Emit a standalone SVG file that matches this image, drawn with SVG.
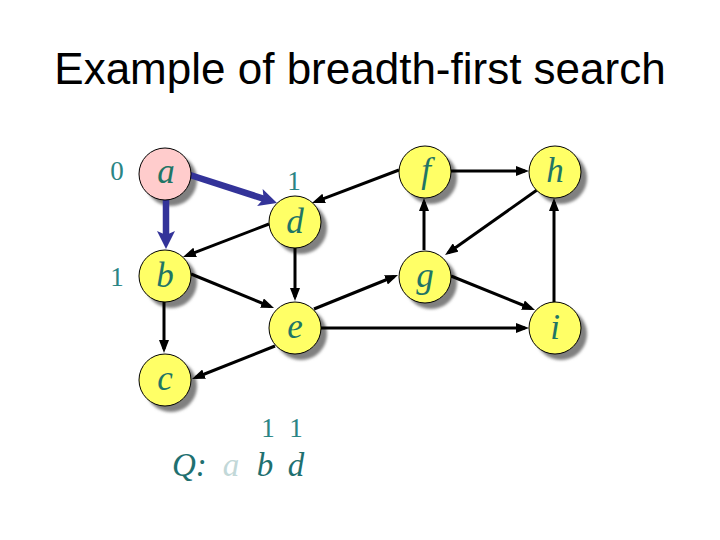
<svg xmlns="http://www.w3.org/2000/svg" width="720" height="540" viewBox="0 0 720 540">
<style>
.title{font-family:"Liberation Sans",Arial,sans-serif;font-size:44px;fill:#000}
.lbl{font-family:"Liberation Serif","Times New Roman",serif;font-style:italic;font-size:35px;fill:#1f7565;text-anchor:middle}
.num{font-family:"Liberation Serif","Times New Roman",serif;font-size:27px;fill:#2a8585;text-anchor:middle}
.q{font-family:"Liberation Serif","Times New Roman",serif;font-style:italic;font-size:33px;fill:#1f7070}
.node{stroke:#000;stroke-width:1;fill:#ffff66}
.start{fill:#ffcccc}
.sh{fill:#808080;filter:url(#blur)}
.e{stroke:#000;stroke-width:3;fill:none;marker-end:url(#ah)}
.t{stroke:#333399;stroke-width:6.5;fill:none;marker-end:url(#bh)}
</style>
<defs>
<filter id="blur" x="-20%" y="-20%" width="140%" height="140%"><feGaussianBlur stdDeviation="1.5"/></filter>
<marker id="ah" markerUnits="userSpaceOnUse" markerWidth="13" markerHeight="10" refX="9" refY="5" orient="auto"><path d="M0,0 L13,5 L0,10 z" fill="#000"/></marker>
<marker id="bh" markerUnits="userSpaceOnUse" markerWidth="18" markerHeight="18" refX="10" refY="9" orient="auto"><path d="M0,0 L18,9 L0,18 L4,9 z" fill="#333399"/></marker>
</defs>
<rect width="720" height="540" fill="#fff"/>
<text class="title" x="360" y="84" text-anchor="middle">Example of breadth-first search</text>
<g id="shadows">
<circle class="sh" cx="171" cy="180" r="26"/>
<circle class="sh" cx="301" cy="228" r="26"/>
<circle class="sh" cx="171" cy="282" r="26"/>
<circle class="sh" cx="431" cy="178" r="26"/>
<circle class="sh" cx="561" cy="178" r="26"/>
<circle class="sh" cx="431" cy="283" r="26"/>
<circle class="sh" cx="561" cy="334" r="26"/>
<circle class="sh" cx="301" cy="334" r="26"/>
<circle class="sh" cx="171" cy="386" r="26"/>
</g>
<g id="connectors">
<line class="t" x1="190" y1="175" x2="269.4" y2="200.6"/>
<line class="t" x1="166" y1="200" x2="166" y2="241"/>
<line class="e" x1="269" y1="224" x2="186.7" y2="255.6"/>
<line class="e" x1="399" y1="170" x2="315.7" y2="201.6"/>
<line class="e" x1="295" y1="248" x2="295" y2="297"/>
<line class="e" x1="191" y1="274" x2="270.3" y2="306.5"/>
<line class="e" x1="164" y1="302" x2="164" y2="349"/>
<line class="e" x1="275" y1="346" x2="195.7" y2="377.5"/>
<line class="e" x1="314" y1="309" x2="394.3" y2="276.5"/>
<line class="e" x1="321" y1="328" x2="525" y2="328"/>
<line class="e" x1="424" y1="250" x2="424" y2="202"/>
<line class="e" x1="451" y1="171" x2="525" y2="171"/>
<line class="e" x1="537" y1="190" x2="448.3" y2="252.7"/>
<line class="e" x1="451" y1="276" x2="531.3" y2="308.5"/>
<line class="e" x1="554" y1="302" x2="554" y2="202"/>
</g>
<g id="node-a"><circle class="node start" cx="165" cy="174" r="26"/><text class="lbl" x="166" y="183">a</text></g>
<g id="node-d"><circle class="node" cx="295" cy="222" r="26"/><text class="lbl" x="295" y="233">d</text></g>
<g id="node-b"><circle class="node" cx="165" cy="276" r="26"/><text class="lbl" x="165" y="287">b</text></g>
<g id="node-f"><circle class="node" cx="425" cy="172" r="26"/><text class="lbl" x="426" y="182">f</text></g>
<g id="node-h"><circle class="node" cx="555" cy="172" r="26"/><text class="lbl" x="555" y="182">h</text></g>
<g id="node-g"><circle class="node" cx="425" cy="277" r="26"/><text class="lbl" x="425" y="287">g</text></g>
<g id="node-i"><circle class="node" cx="555" cy="328" r="26"/><text class="lbl" x="555" y="339">i</text></g>
<g id="node-e"><circle class="node" cx="295" cy="328" r="26"/><text class="lbl" x="295" y="338">e</text></g>
<g id="node-c"><circle class="node" cx="165" cy="380" r="26"/><text class="lbl" x="165" y="390">c</text></g>
<g id="distances">
<text class="num" x="117" y="180">0</text>
<text class="num" x="117" y="286">1</text>
<text class="num" x="294" y="190">1</text>
<text class="num" x="268" y="437">1</text>
<text class="num" x="296" y="437">1</text>
</g>
<g id="queue">
<text class="q" x="172" y="476">Q:</text>
<text class="q" x="231" y="476" text-anchor="middle" style="fill:#c2d8d8">a</text>
<text class="q" x="265" y="476" text-anchor="middle">b</text>
<text class="q" x="296" y="476" text-anchor="middle">d</text>
</g>
</svg>
